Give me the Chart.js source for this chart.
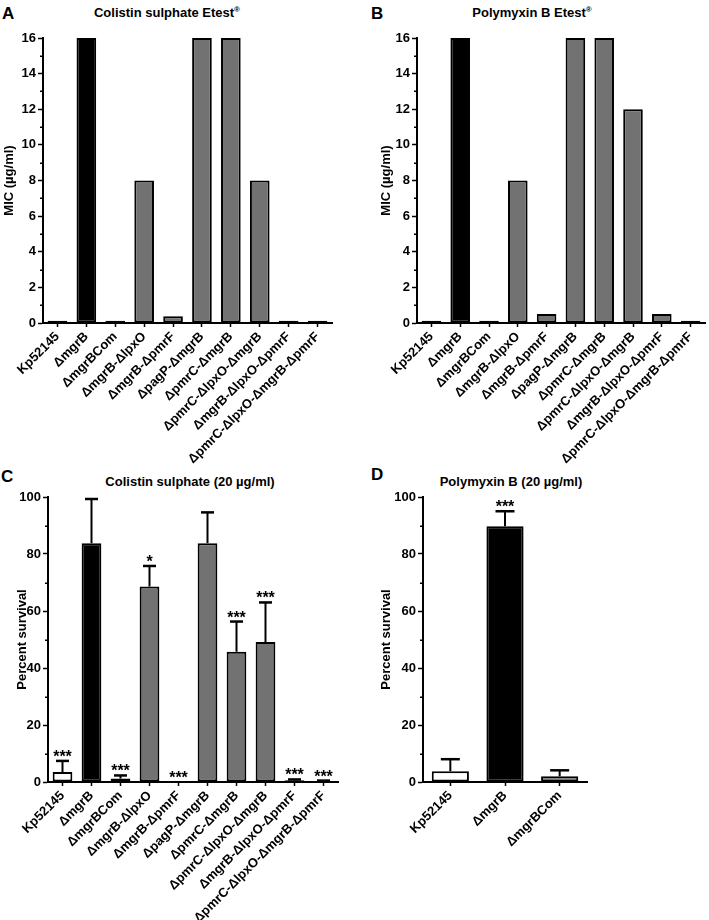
<!DOCTYPE html>
<html>
<head>
<meta charset="utf-8">
<title>Colistin / Polymyxin B</title>
<script src="https://cdn.jsdelivr.net/npm/chart.js@4.4.1/dist/chart.umd.min.js"></script>
<style>
    body { margin: 0; background: #fff; }
    #page { position: relative; width: 709px; height: 920px; overflow: hidden; font-family: "Liberation Sans", Arial, Helvetica, sans-serif; color: #000; }
    #page canvas { position: absolute; }
    .letter { position: absolute; font-weight: bold; font-size: 17px; line-height: 17px; }
    .title { position: absolute; width: 300px; text-align: center; font-weight: bold; font-size: 13px; line-height: 16px; white-space: nowrap; }
    .title sup { font-size: 8px; vertical-align: 5px; line-height: 0; }
</style>
</head>
<body>
<div id="page">
    <div class="letter" style="left:2px; top:5px;">A</div>
    <div class="letter" style="left:371px; top:5px;">B</div>
    <div class="letter" style="left:1px; top:468px;">C</div>
    <div class="letter" style="left:371px; top:466px;">D</div>

    <div class="title" style="left:17px; top:5px;">Colistin sulphate Etest<sup>®</sup></div>
    <div class="title" style="left:382px; top:5px;">Polymyxin B Etest<sup>®</sup></div>
    <div class="title" style="left:40px; top:474px;">Colistin sulphate (20 µg/ml)</div>
    <div class="title" style="left:361px; top:474px;">Polymyxin B (20 µg/ml)</div>

    <canvas id="chartA" width="340" height="475" style="left:0px; top:0px;"></canvas>
    <canvas id="chartB" width="350" height="475" style="left:359px; top:0px;"></canvas>
    <canvas id="chartC" width="350" height="460" style="left:0px; top:460px;"></canvas>
    <canvas id="chartD" width="349" height="460" style="left:360px; top:460px;"></canvas>
</div>

<script>
const strains = ['Kp52145', 'ΔmgrB', 'ΔmgrBCom', 'ΔmgrB-ΔlpxO', 'ΔmgrB-ΔpmrF', 'ΔpagP-ΔmgrB',
    'ΔpmrC-ΔmgrB', 'ΔpmrC-ΔlpxO-ΔmgrB', 'ΔmgrB-ΔlpxO-ΔpmrF', 'ΔpmrC-ΔlpxO-ΔmgrB-ΔpmrF'];
const shortStrains = ['Kp52145', 'ΔmgrB', 'ΔmgrBCom'];

// MIC (ug/ml)
const colistinMic = [0.125, 16, 0.125, 8, 0.38, 16, 16, 8, 0.125, 0.125];
const polymyxinMic = [0.125, 16, 0.125, 8, 0.5, 16, 16, 12, 0.5, 0.125];

// percent survival, mean and upper error
const colistinSurvival = [3.5, 83.8, 1.2, 68.6, 0, 83.8, 45.7, 49.1, 0.6, 0.35];
const colistinSurvivalErr = [3.9, 15.5, 1.1, 7.2, 0, 10.8, 10.6, 13.9, 0.3, 0.15];
const colistinStars = ['***', '', '***', '*', '***', '', '***', '***', '***', '***'];

const polymyxinSurvival = [3.75, 89.7, 2.0];
const polymyxinSurvivalErr = [4.25, 5.3, 2.1];
const polymyxinStars = ['', '***', ''];

const micAxis = { max: 16, step: 2, title: 'MIC (µg/ml)' };
const survivalAxis = { max: 100, step: 20, title: 'Percent survival' };

const GREY = '#727272';
const FONT = '"Liberation Sans", Arial, Helvetica, sans-serif';

Chart.defaults.font.family = FONT;
Chart.defaults.color = '#000';

function barColors(labels) {
    // wild type white, mgrB mutant black, everything else grey
    return labels.map((l, i) => i === 0 ? '#ffffff' : (i === 1 ? '#000000' : GREY));
}

function minorTicksPlugin(step) {
    return {
        id: 'minorTicks',
        afterDraw(chart) {
            const y = chart.scales.y;
            const left = chart.chartArea.left;
            const c = chart.ctx;
            c.save();
            c.strokeStyle = '#000';
            c.lineWidth = 1.5;
            for (let v = step; v < y.max; v += 2 * step) {
                const py = Math.round(y.getPixelForValue(v)) + 0.25;
                c.beginPath();
                c.moveTo(left - 3, py);
                c.lineTo(left, py);
                c.stroke();
            }
            c.restore();
        }
    };
}

function errorBarPlugin(errors, stars, capHalf) {
    return {
        id: 'errorBars',
        afterDatasetsDraw(chart) {
            const meta = chart.getDatasetMeta(0);
            const yScale = chart.scales.y;
            const values = chart.data.datasets[0].data;
            const c = chart.ctx;
            c.save();
            c.strokeStyle = '#000';
            c.fillStyle = '#000';
            meta.data.forEach((bar, i) => {
                const err = errors ? errors[i] : 0;
                const top = yScale.getPixelForValue(values[i] + err);
                if (err > 0) {
                    c.lineWidth = 2;
                    c.beginPath();
                    c.moveTo(bar.x, bar.y);
                    c.lineTo(bar.x, top);
                    c.stroke();
                    c.lineWidth = 2.5;
                    c.beginPath();
                    c.moveTo(bar.x - capHalf, top);
                    c.lineTo(bar.x + capHalf, top);
                    c.stroke();
                }
                if (stars && stars[i]) {
                    c.font = 'bold 16px ' + FONT;
                    c.textAlign = 'center';
                    c.textBaseline = 'alphabetic';
                    c.fillText(stars[i], bar.x, top + 1);
                }
            });
            c.restore();
        }
    };
}

function buildChart(canvasId, opts) {
    const ctx = document.getElementById(canvasId).getContext('2d');
    return new Chart(ctx, {
        type: 'bar',
        data: {
            labels: opts.labels,
            datasets: [{
                data: opts.values,
                backgroundColor: barColors(opts.labels),
                borderColor: '#000',
                borderWidth: 2,
                borderSkipped: false,
                barPercentage: 0.68,
                categoryPercentage: 1
            }]
        },
        options: {
            responsive: false,
            animation: false,
            events: [],
            layout: {
                padding: { left: 0, right: opts.padRight, top: opts.padTop, bottom: 0 }
            },
            plugins: {
                legend: { display: false },
                tooltip: { enabled: false },
                title: { display: false }
            },
            scales: {
                x: {
                    grid: {
                        display: true,
                        drawOnChartArea: false,
                        drawTicks: true,
                        tickLength: 4,
                        tickColor: '#000',
                        tickWidth: 1.5,
                        offset: false
                    },
                    border: { display: true, color: '#000', width: 2 },
                    ticks: {
                        autoSkip: false,
                        minRotation: 45,
                        maxRotation: 45,
                        padding: 2,
                        color: '#000',
                        font: { size: 13, weight: 'bold' }
                    },
                    afterFit: function(scale) {
                        scale.height = opts.xHeight;
                    }
                },
                y: {
                    min: 0,
                    max: opts.axis.max,
                    grid: {
                        drawOnChartArea: false,
                        drawTicks: true,
                        tickLength: 5,
                        tickColor: '#000',
                        tickWidth: 1.5
                    },
                    border: { display: true, color: '#000', width: 2 },
                    ticks: {
                        stepSize: opts.axis.step,
                        padding: 2,
                        color: '#000',
                        font: { size: 13, weight: 'bold' }
                    },
                    title: {
                        display: true,
                        text: opts.axis.title,
                        color: '#000',
                        font: { size: 13, weight: 'bold' },
                        padding: { top: opts.yTitlePad, bottom: 0 }
                    },
                    afterFit: function(scale) {
                        scale.width = opts.yWidth;
                    }
                }
            }
        },
        plugins: [
            minorTicksPlugin(opts.axis.step / 2),
            errorBarPlugin(opts.errors, opts.stars, opts.capHalf)
        ]
    });
}

buildChart('chartA', {
    labels: strains, values: colistinMic, axis: micAxis,
    padTop: 38, padRight: 8, xHeight: 152, yWidth: 43, yTitlePad: 1.5
});

buildChart('chartB', {
    labels: strains, values: polymyxinMic, axis: micAxis,
    padTop: 38, padRight: 4, xHeight: 152, yWidth: 58, yTitlePad: 20
});

buildChart('chartC', {
    labels: strains, values: colistinSurvival, axis: survivalAxis,
    errors: colistinSurvivalErr, stars: colistinStars, capHalf: 6.5,
    padTop: 37, padRight: 12, xHeight: 138, yWidth: 48, yTitlePad: 15
});

buildChart('chartD', {
    labels: shortStrains, values: polymyxinSurvival, axis: survivalAxis,
    errors: polymyxinSurvivalErr, stars: polymyxinStars, capHalf: 9.5,
    padTop: 37, padRight: 122, xHeight: 138, yWidth: 63, yTitlePad: 19
});
</script>
</body>
</html>
